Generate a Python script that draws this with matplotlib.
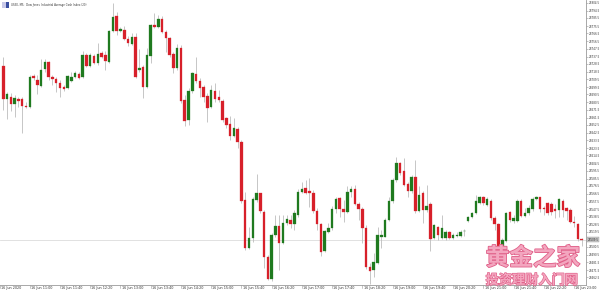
import matplotlib
matplotlib.use("Agg")
import matplotlib.pyplot as plt
import matplotlib.patheffects as pe
from matplotlib.patches import Rectangle

# US30 M5 candles
opens = [
    28725.7, 28684.2, 28687.6, 28678.8, 28684.2, 28684.6, 28675.9, 28674.3, 28713.3, 28708.3,
    28701.2, 28721.6, 28730.3, 28712.5, 28709.1, 28704.2, 28699.2, 28698.3, 28707.5, 28712.5,
    28715.8, 28711.6, 28739.0, 28725.7, 28738.2, 28729.9, 28741.5, 28739.4, 28730.7, 28769.7,
    28788.4, 28769.7, 28770.5, 28759.3, 28752.7, 28761.8, 28720.8, 28724.9, 28700.0, 28738.2,
    28776.4, 28773.9, 28784.7, 28768.1, 28761.0, 28740.3, 28722.8, 28748.6, 28683.4, 28658.5,
    28694.2, 28715.8, 28707.5, 28699.2, 28688.8, 28674.3, 28695.0, 28686.7, 28682.6, 28660.6,
    28653.5, 28638.6, 28646.9, 28631.5, 28558.9, 28498.7, 28511.2, 28558.9, 28567.2, 28544.4,
    28488.3, 28460.1, 28515.3, 28526.5, 28505.8, 28529.9, 28534.0, 28529.0, 28540.2, 28568.4,
    28573.4, 28570.5, 28567.2, 28545.6, 28529.0, 28495.4, 28519.1, 28523.6, 28547.3, 28561.0,
    28547.3, 28544.0, 28568.4, 28572.2, 28553.9, 28547.7, 28524.5, 28475.9, 28471.7, 28480.9,
    28512.4, 28513.2, 28534.0, 28557.2, 28583.8, 28605.4, 28595.0, 28578.8, 28570.5, 28588.0,
    28545.6, 28568.0, 28546.4, 28553.9, 28511.2, 28525.7, 28512.0, 28511.2, 28518.6, 28512.0,
    28514.1, 28514.5, 28519.9, 28532.8, 28538.1, 28542.3, 28555.6, 28562.2, 28552.7, 28557.7,
    28536.1, 28529.0, 28497.5, 28508.3, 28544.4, 28533.2, 28533.2, 28557.1, 28539.0, 28542.3,
    28547.3, 28559.7, 28562.2, 28548.5, 28554.7, 28553.9, 28547.3, 28546.4, 28557.1, 28548.5,
    28546.4, 28531.9, 28529.0, 28509.9,
]
highs = [
    28737.4, 28693.8, 28691.7, 28689.6, 28687.6, 28687.6, 28681.3, 28714.5, 28715.8, 28714.5,
    28734.0, 28734.0, 28732.0, 28714.5, 28711.6, 28708.3, 28702.1, 28714.5, 28718.7, 28719.9,
    28718.7, 28744.4, 28741.5, 28741.5, 28740.7, 28754.0, 28744.8, 28744.8, 28770.5, 28803.8,
    28793.4, 28774.7, 28775.5, 28763.1, 28766.4, 28766.4, 28746.5, 28727.0, 28747.7, 28778.0,
    28791.3, 28789.2, 28788.0, 28770.5, 28762.3, 28743.6, 28752.7, 28751.9, 28689.6, 28697.9,
    28718.7, 28736.5, 28710.4, 28702.1, 28691.7, 28702.1, 28705.0, 28695.9, 28684.2, 28662.7,
    28663.5, 28660.6, 28649.4, 28633.6, 28569.3, 28525.7, 28562.2, 28591.3, 28568.0, 28546.4,
    28490.4, 28517.4, 28540.2, 28540.2, 28540.2, 28540.2, 28540.2, 28546.4, 28572.2, 28581.7,
    28583.8, 28585.9, 28571.3, 28548.5, 28530.7, 28521.5, 28530.7, 28551.8, 28562.2, 28563.0,
    28558.9, 28576.3, 28576.3, 28577.6, 28556.4, 28550.6, 28527.8, 28480.0, 28492.5, 28525.7,
    28521.5, 28536.1, 28563.0, 28585.9, 28612.0, 28606.6, 28610.8, 28581.7, 28590.0, 28608.7,
    28576.3, 28570.5, 28577.6, 28556.8, 28529.0, 28526.5, 28540.2, 28521.5, 28520.7, 28517.4,
    28518.6, 28521.5, 28522.4, 28539.0, 28544.4, 28565.1, 28563.9, 28563.9, 28563.0, 28559.7,
    28539.0, 28530.7, 28511.2, 28544.4, 28545.6, 28540.2, 28559.7, 28559.7, 28548.5, 28552.7,
    28562.2, 28563.9, 28563.0, 28551.4, 28556.8, 28556.8, 28553.9, 28561.0, 28559.7, 28550.6,
    28548.5, 28539.0, 28530.7, 28511.2,
]
lows = [
    28671.0, 28659.3, 28669.7, 28662.7, 28675.1, 28641.9, 28673.0, 28673.0, 28708.3, 28690.5,
    28700.0, 28718.7, 28708.3, 28702.1, 28693.8, 28686.7, 28695.0, 28696.7, 28706.2, 28710.4,
    28709.1, 28710.4, 28724.9, 28724.9, 28728.2, 28727.0, 28735.3, 28720.8, 28729.9, 28768.5,
    28764.3, 28768.5, 28758.1, 28750.6, 28751.9, 28710.4, 28718.7, 28685.5, 28697.9, 28729.0,
    28772.6, 28772.6, 28766.4, 28743.6, 28737.4, 28716.6, 28720.8, 28679.3, 28651.0, 28652.3,
    28692.5, 28704.2, 28687.6, 28681.3, 28656.4, 28673.0, 28681.3, 28681.3, 28656.4, 28648.1,
    28633.6, 28636.9, 28623.2, 28554.7, 28496.6, 28497.5, 28507.0, 28556.8, 28542.3, 28473.8,
    28459.3, 28458.5, 28513.2, 28471.7, 28504.1, 28527.8, 28523.6, 28521.5, 28538.1, 28567.2,
    28566.4, 28550.6, 28542.3, 28521.5, 28489.2, 28493.7, 28517.4, 28521.5, 28542.3, 28538.1,
    28531.9, 28542.3, 28563.0, 28552.7, 28534.0, 28505.8, 28472.6, 28454.3, 28463.4, 28479.2,
    28498.7, 28512.4, 28533.2, 28555.6, 28581.7, 28590.0, 28576.3, 28563.0, 28568.0, 28542.3,
    28544.4, 28530.7, 28544.4, 28495.8, 28509.9, 28509.1, 28509.9, 28509.1, 28509.9, 28509.9,
    28512.4, 28513.2, 28514.1, 28531.9, 28536.1, 28541.5, 28553.9, 28552.7, 28551.4, 28534.0,
    28521.5, 28494.6, 28495.8, 28507.0, 28531.9, 28529.9, 28531.9, 28537.3, 28537.3, 28540.2,
    28545.6, 28558.9, 28544.4, 28540.2, 28540.2, 28540.2, 28536.1, 28538.1, 28538.1, 28534.0,
    28530.7, 28525.7, 28508.3, 28501.6,
]
closes = [
    28684.2, 28690.5, 28678.0, 28685.5, 28682.6, 28675.5, 28674.3, 28711.6, 28710.8, 28702.1,
    28720.8, 28730.7, 28712.5, 28710.0, 28705.0, 28698.3, 28697.5, 28713.3, 28711.6, 28716.6,
    28710.8, 28739.0, 28726.1, 28739.0, 28729.9, 28740.7, 28736.5, 28731.5, 28769.7, 28787.1,
    28769.7, 28771.4, 28759.3, 28754.0, 28762.3, 28712.5, 28723.7, 28699.2, 28739.4, 28776.8,
    28773.9, 28783.8, 28768.1, 28761.0, 28739.4, 28722.8, 28748.6, 28682.6, 28657.7, 28695.0,
    28716.6, 28707.5, 28698.3, 28687.6, 28673.0, 28695.9, 28684.6, 28683.4, 28658.5, 28652.3,
    28638.6, 28648.1, 28631.5, 28557.7, 28498.7, 28511.2, 28560.1, 28567.2, 28545.6, 28487.5,
    28460.1, 28515.3, 28526.5, 28505.0, 28529.9, 28535.2, 28528.6, 28542.3, 28568.4, 28572.2,
    28568.0, 28567.2, 28545.6, 28528.6, 28494.6, 28519.9, 28524.0, 28547.7, 28560.1, 28547.3,
    28544.0, 28569.3, 28572.2, 28553.9, 28547.3, 28524.5, 28475.9, 28470.9, 28481.3, 28515.3,
    28515.3, 28534.0, 28557.2, 28583.8, 28605.4, 28592.1, 28577.6, 28570.5, 28588.0, 28545.6,
    28565.1, 28546.4, 28551.4, 28509.9, 28527.8, 28515.3, 28524.5, 28519.5, 28511.2, 28515.3,
    28515.7, 28519.5, 28520.7, 28538.1, 28543.1, 28557.7, 28562.2, 28554.7, 28559.7, 28536.1,
    28529.0, 28496.6, 28509.1, 28543.1, 28534.0, 28536.1, 28557.1, 28539.0, 28543.1, 28548.5,
    28559.7, 28562.2, 28547.3, 28547.3, 28543.1, 28544.4, 28545.6, 28559.7, 28546.4, 28545.6,
    28531.9, 28530.7, 28509.9, 28509.1,
]

last_price = 28509.5

price_labels = [
    "28804.5", "28794.5", "28785.5", "28775.5", "28766.5", "28756.5", "28747.5", "28737.5",
    "28728.5", "28718.5", "28709.5", "28699.5", "28690.5", "28680.5", "28671.5", "28661.5",
    "28652.5", "28642.5", "28633.5", "28623.5", "28614.5", "28604.5", "28595.5", "28585.5",
    "28576.5", "28566.5", "28557.5", "28547.5", "28538.5", "28528.5", "28519.5", "28509.5",
    "28500.5", "28490.5", "28481.5", "28471.5", "28462.5",
]

time_labels = [
    "16 Jun 2020", "16 Jun 11:00", "16 Jun 11:40", "16 Jun 12:20", "16 Jun 13:00",
    "16 Jun 13:40", "16 Jun 14:20", "16 Jun 15:00", "16 Jun 15:40", "16 Jun 16:20",
    "16 Jun 17:00", "16 Jun 17:40", "16 Jun 18:20", "16 Jun 19:00", "16 Jun 19:40",
    "16 Jun 20:20", "16 Jun 21:00", "16 Jun 21:40", "16 Jun 22:20", "16 Jun 23:00",
]
time_label_bars = list(range(-1, 153, 8))

title = "US30, M5:  Dow Jones Industrial Average Cash Index (20)"

UP = "#1f7a1f"
DOWN = "#d7202a"
WICK = "#bdbdbd"
AXIS = "#9a9a9a"
TXT = "#333333"

fig = plt.figure(figsize=(6, 2.9), dpi=100)
fig.patch.set_facecolor("white")
ax = fig.add_axes([0, 5 / 290, 586 / 600, 285 / 290])

n = len(opens)
xs = list(range(n))
colors = [UP if c >= o else DOWN for o, c in zip(opens, closes)]
bottoms = [min(o, c) for o, c in zip(opens, closes)]
heights = [max(abs(c - o), 0.6) for o, c in zip(opens, closes)]

ax.axhline(last_price, color="#dcdcdc", lw=0.6, zorder=1)
ax.vlines(xs, lows, highs, colors=WICK, lw=0.6, zorder=2)
ax.bar(xs, heights, bottom=bottoms, width=0.66, color=colors, edgecolor=colors,
       lw=0.2, zorder=3)

ax.set_xlim(-0.87, 154.15)
ax.set_ylim(28453.0, 28807.9)

for s in ("left", "top"):
    ax.spines[s].set_visible(False)
for s in ("right", "bottom"):
    ax.spines[s].set_color(AXIS)
    ax.spines[s].set_linewidth(0.6)

# the tag box carries the last price, so its tick label is left blank
ax.yaxis.tick_right()
ax.set_yticks([float(p) for p in price_labels])
ax.set_yticklabels(["" if float(p) == last_price else p for p in price_labels])
ax.tick_params(axis="y", length=1.3, width=0.4, color=AXIS, labelsize=2.0,
               labelcolor=TXT, pad=0.4)
ax.set_xticks([])

# time labels sit right of their tick like MT5 does
for b, lab in zip(time_label_bars, time_labels):
    ax.plot([b, b], [0, -0.012], transform=ax.get_xaxis_transform(), color=AXIS,
            lw=0.4, clip_on=False)
    ax.text(b + 0.3, -0.004, lab, transform=ax.get_xaxis_transform(), fontsize=2.4,
            color=TXT, ha="left", va="top", clip_on=False)

# current price tag
ax.text(1.003, last_price, "%.1f" % last_price, transform=ax.get_yaxis_transform(),
        fontsize=2.0, color="#222222", ha="left", va="center",
        bbox=dict(boxstyle="square,pad=0.25", fc="#c8c8c8", ec="#a0a0a0", lw=0.3))

# header with the little flag icon
fig.patches.append(Rectangle((2 / 600, 1 - 7.5 / 290), 3.5 / 600, 5 / 290,
                             transform=fig.transFigure, fc="#c9c9e8", ec="none"))
fig.patches.append(Rectangle((5.5 / 600, 1 - 7.5 / 290), 3.5 / 600, 5 / 290,
                             transform=fig.transFigure, fc="#3a4fa0", ec="none"))
fig.text(11 / 600, 1 - 5 / 290, title, fontsize=1.9, color=TXT, va="center")

# watermark
cjk = ["Noto Sans CJK SC", "DejaVu Sans"]
fig.text(533 / 600, 32 / 290, "黄金之家", fontsize=17, family=cjk, weight="bold",
         color="#f3a6bf", ha="center", va="center",
         path_effects=[pe.withStroke(linewidth=1.2, foreground="#e05f88")])
fig.text(532 / 600, 10 / 290, "投资理财入门网", fontsize=9.5, family=cjk, weight="bold",
         color="#f3a6bf", ha="center", va="center",
         path_effects=[pe.withStroke(linewidth=0.9, foreground="#e05f88")])

fig.savefig("out.png", dpi=100)
